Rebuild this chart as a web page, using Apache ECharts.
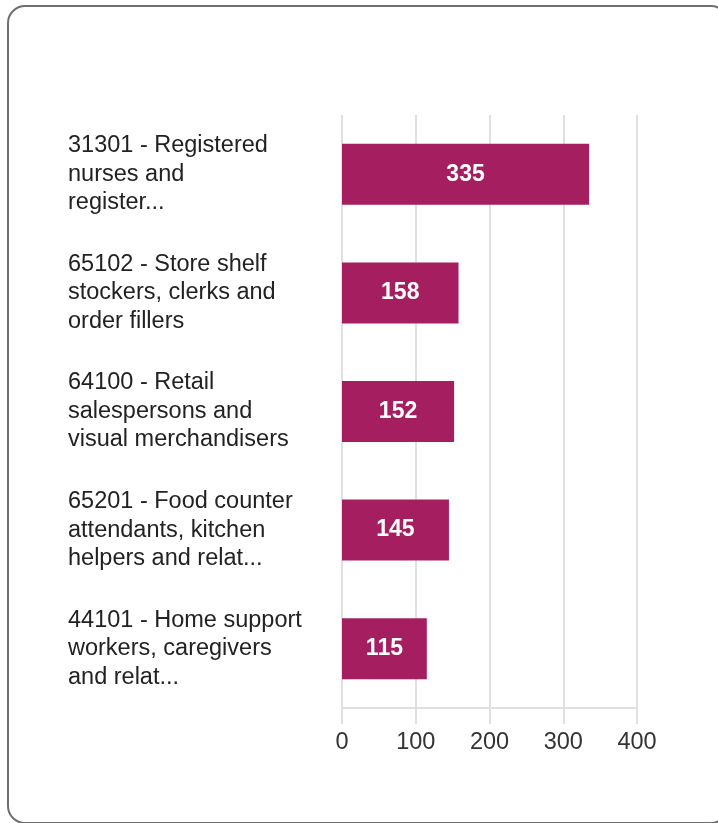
<!DOCTYPE html>
<html>
<head>
<meta charset="utf-8">
<script src="https://cdn.jsdelivr.net/npm/echarts@6/dist/echarts.min.js"></script>
<style>
  html, body { margin: 0; padding: 0; background: #fff; overflow: hidden; }
  #card { position: absolute; left: 7px; top: 5px; width: 722px; height: 819px;
          border: 2px solid #6f6f6f; border-radius: 18px; box-sizing: border-box; }
  #chart { position: absolute; left: 0; top: 0; width: 718px; height: 823px; }
</style>
</head>
<body>
<div id="card"></div>
<div id="chart"></div>
<script>
const categories = [
  "31301 - Registered\nnurses and\nregister...",
  "65102 - Store shelf\nstockers, clerks and\norder fillers",
  "64100 - Retail\nsalespersons and\nvisual merchandisers",
  "65201 - Food counter\nattendants, kitchen\nhelpers and relat...",
  "44101 - Home support\nworkers, caregivers\nand relat..."
];
const values = [335, 158, 152, 145, 115];
const xTicks = [0, 100, 200, 300, 400];

const chart = echarts.init(document.getElementById('chart'), null, { renderer: 'canvas' });
chart.setOption({
  animation: false,
  grid: { left: 342, right: 81, top: 115, bottom: 115, containLabel: false },
  xAxis: {
    type: 'value', min: xTicks[0], max: xTicks[xTicks.length - 1], interval: 100,
    axisLine: { show: true, lineStyle: { color: '#e0e0e0', width: 2 } },
    axisTick: { show: true, length: 16, lineStyle: { color: '#e0e0e0', width: 2 } },
    splitLine: { show: true, lineStyle: { color: '#e0e0e0', width: 2 } },
    axisLabel: { color: '#333', fontSize: 23.5, fontFamily: 'Liberation Sans, Arial, sans-serif', margin: 23 }
  },
  yAxis: {
    type: 'category', inverse: true, data: categories,
    axisLine: { show: false }, axisTick: { show: false },
    axisLabel: { color: '#222', fontSize: 23.5, lineHeight: 28.5, align: 'left', margin: 274,
                 fontFamily: 'Liberation Sans, Arial, sans-serif' }
  },
  series: [{
    type: 'bar', data: values, barWidth: 61,
    itemStyle: { color: '#a51e5f' },
    label: { show: true, position: 'inside', color: '#fff', fontSize: 23, fontWeight: 'bold',
             fontFamily: 'Liberation Sans, Arial, sans-serif' }
  }]
});
</script>
</body>
</html>
